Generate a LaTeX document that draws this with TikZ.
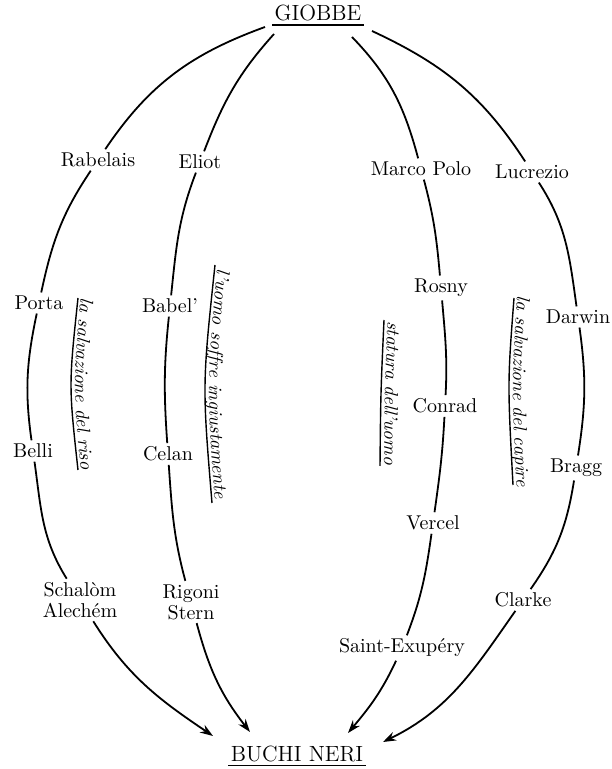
\documentclass[tikz,border=0pt]{standalone}
\usetikzlibrary{arrows.meta,decorations.text}
\newcommand\labfont{\fontsize{9.5}{11}\selectfont\itshape}
\begin{document}
\begin{tikzpicture}[x=0.5pt,y=0.5pt,
  who/.style={font=\fontsize{10}{10.5}\selectfont, inner sep=1.6pt, align=center},
  pole/.style={font=\fontsize{11}{12}\selectfont, inner sep=1pt},
  conn/.style={line width=0.9pt},
  arr/.style={conn,-{Stealth[length=6.5pt,width=4.5pt]}},
  uline/.style={line width=0.7pt},
  pline/.style={line width=0.9pt},
  ]
\useasboundingbox (0,0) rectangle (611,769);

% poles
\node[pole, anchor=base] (giobbe) at (318,748) {GIOBBE};
\node[pole, anchor=base] (buchi) at (297,7) {BUCHI NERI};
\draw[pline] ([yshift=-2pt]giobbe.base west) -- ([yshift=-2pt]giobbe.base east);
\draw[pline] ([yshift=-1.8pt]buchi.base west) -- ([yshift=-1.8pt]buchi.base east);

% free ends
\coordinate (g1) at (265,742);
\coordinate (g2) at (274,735);
\coordinate (g3) at (352,732);
\coordinate (g4) at (372,738);
\coordinate (b1) at (213,33);
\coordinate (b2) at (250,37);
\coordinate (b3) at (348,36);
\coordinate (b4) at (383,27);

% names
\node[who] (rabelais) at (98,609) {Rabelais};
\node[who] (porta) at (39,466) {Porta};
\node[who] (belli) at (33,318) {Belli};
\node[who] (schalom) at (80,169) {Schalòm\\Alechém};
\node[who] (eliot) at (200,607) {Eliot};
\node[who] (babel) at (170,463) {Babel’};
\node[who] (celan) at (168,315) {Celan};
\node[who] (rigoni) at (191,167) {Rigoni\\Stern};
\node[who] (marco) at (421,600) {Marco Polo};
\node[who] (rosny) at (441,481) {Rosny};
\node[who] (conrad) at (445,363) {Conrad};
\node[who] (vercel) at (433,246) {Vercel};
\node[who] (saint) at (402,121) {Saint-Exupéry};
\node[who] (lucrezio) at (532,597) {Lucrezio};
\node[who] (darwin) at (578,452) {Darwin};
\node[who] (bragg) at (576,301) {Bragg};
\node[who] (clarke) at (523,169) {Clarke};

% curve 1
\draw[conn] (g1) to[out=200,in=56] (rabelais);
\draw[conn] (rabelais) to[out=236,in=78] (porta);
\draw[conn] (porta) to[out=258,in=98] (belli);
\draw[conn] (belli) to[out=278,in=122] (schalom);
\draw[arr] (schalom) to[out=302,in=146] (b1);
% curve 2
\draw[conn] (g2) to[out=228,in=69] (eliot);
\draw[conn] (eliot) to[out=249,in=84] (babel);
\draw[conn] (babel) to[out=264,in=94] (celan);
\draw[conn] (celan) to[out=274,in=105] (rigoni);
\draw[arr] (rigoni) to[out=285,in=128] (b2);
% curve 3
\draw[conn] (g3) to[out=314,in=105] (marco);
\draw[conn] (marco) to[out=285,in=95] (rosny);
\draw[conn] (rosny) to[out=275,in=87] (conrad);
\draw[conn] (conrad) to[out=267,in=82] (vercel);
\draw[conn] (vercel) to[out=262,in=69] (saint);
\draw[arr] (saint) to[out=245,in=50] (b3);
% curve 4
\draw[conn] (g4) to[out=335,in=123] (lucrezio);
\draw[conn] (lucrezio) to[out=303,in=98] (darwin);
\draw[conn] (darwin) to[out=278,in=81] (bragg);
\draw[conn] (bragg) to[out=261,in=55] (clarke);
\draw[arr] (clarke) to[out=235,in=26] (b4);

% underlined italic labels
\path[decorate, decoration={text along path, text align=center,
  text={|\labfont|la salvazione del riso}}]
  (82,486) .. controls (72.7,385) .. (82,284);
\draw[uline] (78,471) .. controls (68.7,383.7) .. (78,299);

\path[decorate, decoration={text along path, text align=center,
  text={|\labfont|l'uomo soffre ingiustamente}}]
  (219,519) .. controls (206.2,385) .. (216,251);
\draw[uline] (215,504) .. controls (202.2,383.7) .. (212,266);

\path[decorate, decoration={text along path, text align=center,
  text={|\labfont|statura dell'uomo}}]
  (388,464) .. controls (384.7,376) .. (384,288);
\draw[uline] (384,449) .. controls (380.7,376) .. (380,303);

\path[decorate, decoration={text along path, text align=center,
  text={|\labfont|la salvazione del capire}}]
  (518,486) .. controls (511.5,384) .. (517,269);
\draw[uline] (514,471) .. controls (507.5,386.2) .. (513,284);
\end{tikzpicture}
\end{document}
